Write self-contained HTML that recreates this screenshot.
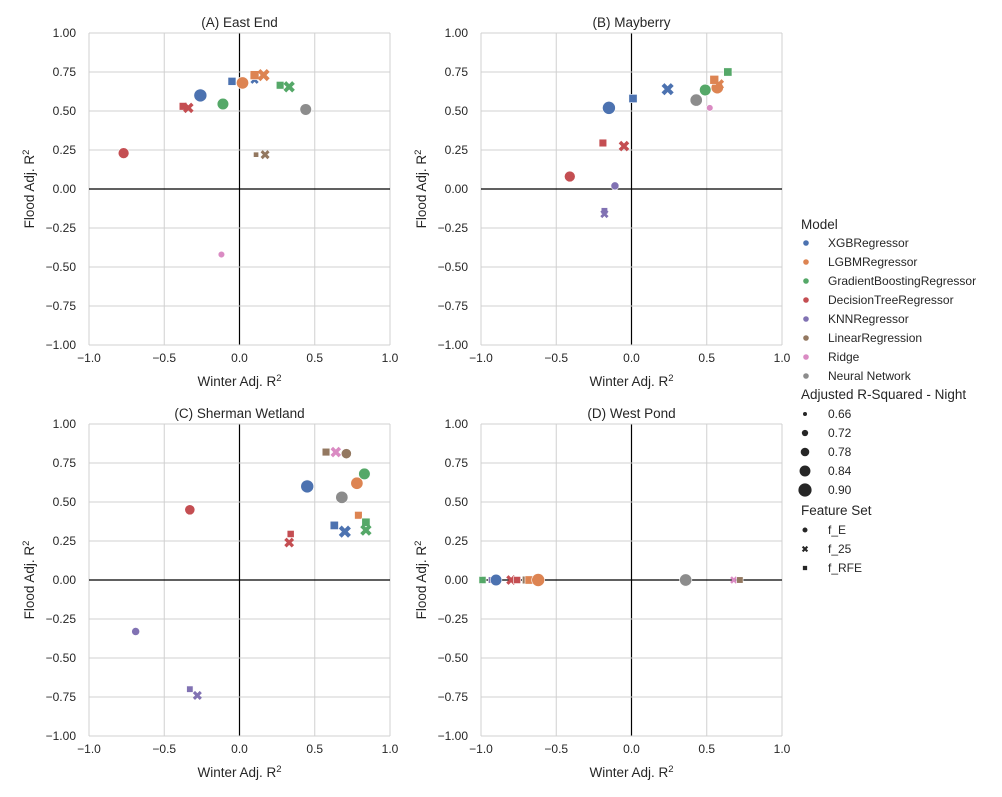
<!DOCTYPE html>
<html><head><meta charset="utf-8"><style>
body{margin:0;background:#fff;font-family:"Liberation Sans",sans-serif}
svg text{font-family:"Liberation Sans",sans-serif;fill:#262626}
</style></head><body>
<svg id="c" width="1002" height="792" viewBox="0 0 1002 792"></svg>
<script>
const modelNames=["XGBRegressor","LGBMRegressor","GradientBoostingRegressor","DecisionTreeRegressor","KNNRegressor","LinearRegression","Ridge","Neural Network"];
const modelColors=["#4c72b0","#dd8452","#55a868","#c44e52","#8172b3","#937860","#da8bc3","#8c8c8c"];
const panelTitles=["(A) East End","(B) Mayberry","(C) Sherman Wetland","(D) West Pond"];
const xTicks=[-1,-0.5,0,0.5,1];
const xTickLabels=["\u22121.0","\u22120.5","0.0","0.5","1.0"];
const yTicks=[1,0.75,0.5,0.25,0,-0.25,-0.5,-0.75,-1];
const yTickLabels=["1.00","0.75","0.50","0.25","0.00","\u22120.25","\u22120.50","\u22120.75","\u22121.00"];
const sizeLegend=[0.66,0.72,0.78,0.84,0.90];
const featureSets=["f_E","f_25","f_RFE"];
const aModel=[0,0,0,1,1,1,2,2,2,3,3,3,5,5,6,7];
const aFeat=[0,2,1,0,2,1,0,2,1,0,2,1,2,1,0,0];
const aWinter=[-0.26,-0.05,0.1,0.02,0.10,0.16,-0.11,0.27,0.33,-0.77,-0.375,-0.34,0.11,0.17,-0.12,0.44];
const aFlood=[0.60,0.69,0.70,0.68,0.73,0.73,0.545,0.665,0.655,0.23,0.53,0.52,0.22,0.22,-0.42,0.51];
const aNight=[0.86,0.75,0.70,0.84,0.78,0.80,0.82,0.74,0.78,0.80,0.74,0.76,0.66,0.72,0.68,0.82];
const bModel=[0,0,0,1,1,1,2,2,3,3,3,4,4,4,7,6];
const bFeat=[0,2,1,0,2,1,0,2,0,2,1,0,2,1,0,0];
const bWinter=[-0.15,0.01,0.24,0.57,0.55,0.58,0.49,0.64,-0.41,-0.19,-0.05,-0.11,-0.18,-0.18,0.43,0.52];
const bFlood=[0.52,0.58,0.64,0.65,0.70,0.67,0.635,0.75,0.08,0.295,0.275,0.02,-0.14,-0.16,0.57,0.52];
const bNight=[0.86,0.76,0.80,0.84,0.78,0.76,0.82,0.76,0.80,0.74,0.76,0.72,0.70,0.70,0.84,0.68];
const cModel=[0,0,0,1,1,2,2,2,3,3,3,4,4,4,5,5,6,7];
const cFeat=[0,2,1,0,2,0,2,1,0,2,1,0,2,1,2,0,1,0];
const cWinter=[0.45,0.63,0.70,0.78,0.79,0.83,0.84,0.84,-0.33,0.34,0.33,-0.69,-0.33,-0.28,0.575,0.71,0.64,0.68];
const cFlood=[0.60,0.35,0.31,0.62,0.415,0.68,0.37,0.32,0.45,0.295,0.24,-0.33,-0.70,-0.74,0.82,0.81,0.82,0.53];
const cNight=[0.86,0.76,0.80,0.84,0.74,0.82,0.76,0.78,0.78,0.72,0.74,0.72,0.70,0.72,0.74,0.78,0.76,0.84];
const dModel=[2,4,0,3,3,5,5,1,1,7,6,5];
const dFeat=[2,2,0,1,2,2,1,2,0,0,1,2];
const dWinter=[-0.99,-0.93,-0.9,-0.8,-0.76,-0.7,-0.66,-0.68,-0.62,0.36,0.68,0.72];
const dFlood=[0,0,0,0,0,0,0,0,0,0,0,0];
const dNight=[0.72,0.70,0.82,0.74,0.72,0.74,0.72,0.76,0.86,0.84,0.68,0.70];
const panels=[[aModel,aFeat,aWinter,aFlood,aNight],[bModel,bFeat,bWinter,bFlood,bNight],[cModel,cFeat,cWinter,cFlood,cNight],[dModel,dFeat,dWinter,dFlood,dNight]];
const origins=[[89,33],[481,33],[89,424],[481,424]];
const W=301,H=312;
const NS="http://www.w3.org/2000/svg";
const svg=document.getElementById('c');
function mk(tag,attrs,parent){const e=document.createElementNS(NS,tag);for(const k in attrs)e.setAttribute(k,attrs[k]);(parent||svg).appendChild(e);return e;}
function rad(s){return 3+(s-0.66)/0.24*4.2;}
function marker(g,f,cx,cy,r,col){
  let e;
  if(f===0){e=mk('circle',{cx,cy,r,fill:col,stroke:'#fff','stroke-width':0.6},g);}
  else if(f===2){const s=r*1.75;e=mk('rect',{x:cx-s/2,y:cy-s/2,width:s,height:s,fill:col,stroke:'#fff','stroke-width':0.6},g);}
  else{const s=r*0.85;e=mk('path',{d:`M${cx-s},${cy-s}L${cx+s},${cy+s}M${cx+s},${cy-s}L${cx-s},${cy+s}`,stroke:col,'stroke-width':Math.max(2,r*0.75),fill:'none'},g);}
  return e;
}
panels.forEach((p,pi)=>{
  const [ox,oy]=origins[pi];
  const sx=v=>ox+(v+1)/2*W, sy=v=>oy+(1-v)/2*H;
  const g=mk('g',{});
  
  
  xTicks.forEach((t,i)=>{
    mk('line',{x1:sx(t),x2:sx(t),y1:oy,y2:oy+H,stroke:t===0?'#000':'#d0d0d0','stroke-width':t===0?1.2:1},g);
    const tx=mk('text',{x:sx(t),y:oy+H+17,'text-anchor':'middle','font-size':12},g);tx.textContent=xTickLabels[i];
    
    
  });
  yTicks.forEach((t,i)=>{
    mk('line',{x1:ox,x2:ox+W,y1:sy(t),y2:sy(t),stroke:t===0?'#000':'#d0d0d0','stroke-width':t===0?1.2:1},g);
    const ty=mk('text',{x:ox-13,y:sy(t)+4,'text-anchor':'end','font-size':12},g);ty.textContent=yTickLabels[i];
    
    
  });
  const tt=mk('text',{x:ox+W/2,y:oy-6,'text-anchor':'middle','font-size':13.5},g);tt.textContent=panelTitles[pi];
  
  
  const xl=mk('text',{x:ox+W/2,y:oy+H+41,'text-anchor':'middle','font-size':13.5},g);
  xl.innerHTML='Winter Adj. R<tspan dy="-5" font-size="9.5">2</tspan>';
  
  
  const yl=mk('text',{x:0,y:0,'text-anchor':'middle','font-size':13.5,transform:`translate(${ox-55},${oy+H/2}) rotate(-90)`},g);
  yl.innerHTML='Flood Adj. R<tspan dy="-5" font-size="9.5">2</tspan>';
  
  
  const [m,f,wx,fy,nt]=p;
  m.forEach((mi,i)=>{
    const e=marker(g,f[i],sx(wx[i]),sy(fy[i]),rad(nt[i]),modelColors[mi]);
    
    
  });
});
const lg=mk('g',{});


function ltext(x,y,s,fs){const t=mk('text',{x,y,'font-size':fs},lg);t.textContent=s;return t;}
let t=ltext(801,229,'Model',13.5);


modelNames.forEach((n,i)=>{
  const y=243+i*19;
  mk('circle',{cx:806,cy:y,r:2.8,fill:modelColors[i]},lg);
  const tx=ltext(828,y+4,n,12);
  
  
});
t=ltext(801,399,'Adjusted R-Squared - Night',13.5);


sizeLegend.forEach((s,i)=>{
  const y=414+i*19;
  mk('circle',{cx:805,cy:y,r:2+(s-0.66)/0.24*4.6,fill:'#262626'},lg);
  const tx=ltext(828,y+4,s.toFixed(2),12);
  
  
});
t=ltext(801,515,'Feature Set',13.5);


featureSets.forEach((n,i)=>{
  const y=530+i*19;
  marker(lg,i,805,y,2.8,'#262626');
  const tx=ltext(828,y+4,n,12);
  
  
});
</script>
</body></html>
